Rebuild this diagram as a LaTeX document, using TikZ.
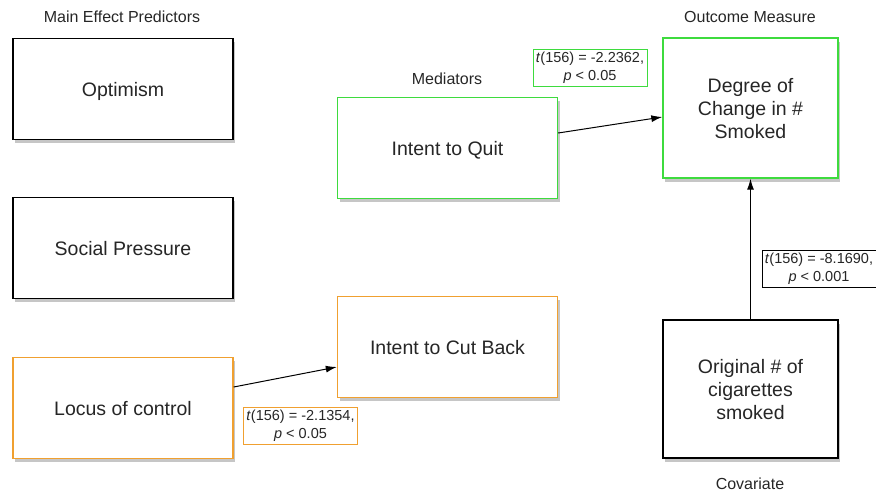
\documentclass[tikz,border=0pt]{standalone}
\usepackage{fontspec}
\setmainfont{Liberation Sans}
\usetikzlibrary{shadows,arrows.meta}
\definecolor{grn}{HTML}{3EDB3E}
\definecolor{org}{HTML}{F0A030}
\tikzset{
  box/.style={draw=black, line width=1.4pt, fill=white, minimum width=220pt, minimum height=101pt, align=center, text depth=0pt, font=\fontsize{19.5}{23}\selectfont, text=black!85, drop shadow={opacity=0.45, shadow xshift=2pt, shadow yshift=-3.5pt}},
  gbox/.style={box, draw=grn},
  obox/.style={box, draw=org},
  lbl/.style={font=\fontsize{16}{18}\selectfont, text=black!85},
  stat/.style={draw, line width=0.9pt, fill=white, align=center, inner sep=0pt, minimum width=114pt, minimum height=37pt, font=\fontsize{14.5}{18}\selectfont, text=black!85},
  conn/.style={-{Latex[length=11pt,width=7pt]}, line width=1pt}
}
\begin{document}
\begin{tikzpicture}[x=1pt,y=-1pt]
\useasboundingbox (0,0) rectangle (876,493);
\node[box] (opt) at (123,89) {Optimism};
\node[box] (soc) at (123,248) {Social Pressure};
\node[obox] (loc) at (123,408) {Locus of control};
\node[gbox] (quit) at (447.5,148) {Intent to Quit};
\node[obox] (cut) at (447.5,347) {Intent to Cut Back};
\node[gbox, minimum width=175pt, minimum height=140pt] (deg) at (750.5,108) {Degree of\\Change in \#\\Smoked};
\node[box, minimum width=175pt, minimum height=138pt] (orig) at (750.5,389) {Original \# of\\cigarettes\\smoked};
\node[lbl] (l1) at (122,17) {Main Effect Predictors};
\node[lbl] (l2) at (447,79) {Mediators};
\node[lbl] (l3) at (750,17) {Outcome Measure};
\node[lbl] (l4) at (750,484) {Covariate};
\node[stat, draw=grn] (s1) at (590,67.5) {\textit{t}(156) = -2.2362,\\\textit{p} {<} 0.05};
\node[stat, draw=org] (s2) at (300.5,426) {\textit{t}(156) = -2.1354,\\\textit{p} {<} 0.05};
\node[stat, draw=black] (s3) at (819,269) {\textit{t}(156) = -8.1690,\\\textit{p} {<} 0.001};
\draw[conn] (quit.east |- 0,133) -- (deg.west |- 0,117);
\draw[conn] (loc.east |- 0,387) -- (cut.west |- 0,367);
\draw[conn] (orig.north) -- (deg.south);
\end{tikzpicture}
\end{document}
